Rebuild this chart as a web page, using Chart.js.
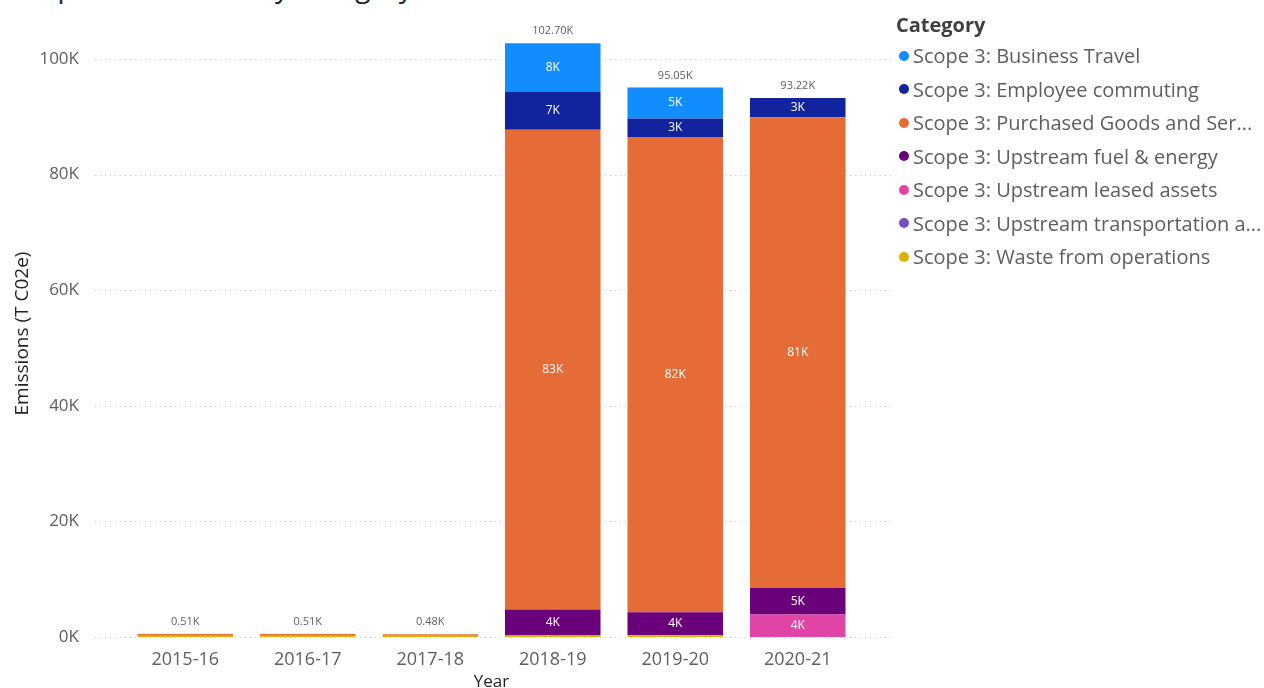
<!DOCTYPE html>
<html>
<head>
<meta charset="utf-8">
<title>Scope 3 Emissions by Category</title>
<script src="https://cdn.jsdelivr.net/npm/chart.js@4.4.1/dist/chart.umd.min.js"></script>
<style>
    body { margin: 0; background: #fff; font-family: "Open Sans", sans-serif; }
    #painel { position: relative; width: 1264px; height: 688px; overflow: hidden; }
    #titulo { position: absolute; left: 12px; top: -31px; font-size: 28px; line-height: 34px; color: #252423; white-space: nowrap; }
    #grafico-box { position: absolute; left: 0; top: 0; width: 1264px; height: 688px; }
    #legenda { position: absolute; left: 896px; top: 8px; color: #605E5C; font-size: 20px; }
    #legenda .titulo-legenda { font-weight: bold; color: #404040; line-height: 34px; margin-bottom: -3px; }
    #legenda .item { display: flex; align-items: center; height: 33.5px; white-space: nowrap; }
    #legenda .ponto { width: 10px; height: 10px; border-radius: 50%; margin-right: 4px; margin-left: 3px; }
</style>
</head>
<body>
<div id="painel">
    <div id="titulo">Scope 3 Emissions by Category</div>
    <div id="grafico-box"><canvas id="emissoes-chart"></canvas></div>
    <div id="legenda"></div>
</div>
<script>
// Anos fiscais
const anos = ['2015-16', '2016-17', '2017-18', '2018-19', '2019-20', '2020-21'];

// Emissões por categoria (milhares de T CO2e)
const viagens = [0, 0, 0, 8.35, 5.35, 0];
const deslocamento = [0, 0, 0, 6.6, 3.2, 3.32];
const compras = [0.3, 0.3, 0.28, 83.0, 82.2, 81.4];
const combustivel = [0, 0, 0, 4.4, 4.0, 4.6];
const arrendados = [0, 0, 0, 0, 0, 3.9];
const transporte = [0, 0, 0, 0, 0, 0];
const residuos = [0.21, 0.21, 0.2, 0.35, 0.3, 0];

// Nomes das categorias (como aparecem na legenda)
const categorias = [
    'Scope 3: Business Travel',
    'Scope 3: Employee commuting',
    'Scope 3: Purchased Goods and Ser...',
    'Scope 3: Upstream fuel & energy',
    'Scope 3: Upstream leased assets',
    'Scope 3: Upstream transportation a...',
    'Scope 3: Waste from operations'
];
const cores = ['#118DFF', '#12239E', '#E66C37', '#6B007B', '#E044A7', '#744EC2', '#D9B300'];
const series = [viagens, deslocamento, compras, combustivel, arrendados, transporte, residuos];

const yTicks = [0, 20, 40, 60, 80, 100];

const fonte = '"Open Sans", sans-serif';
const cinza = '#605E5C';

// Empilhamento de baixo para cima: a última categoria da legenda fica na base
const datasets = series.map((dados, i) => ({
    label: categorias[i],
    data: dados,
    backgroundColor: cores[i],
    borderWidth: 0,
    categoryPercentage: 1,
    barPercentage: 0.78
})).reverse();

// Linhas de grade pontilhadas que passam um pouco das bordas da área do gráfico
const gradePlugin = {
    id: 'grade',
    beforeDatasetsDraw(chart) {
        const ctx = chart.ctx;
        const y = chart.scales.y;
        const area = chart.chartArea;
        ctx.save();
        ctx.strokeStyle = '#C8C6C4';
        ctx.lineWidth = 1;
        ctx.setLineDash([1, 4]);
        yTicks.forEach(t => {
            const py = Math.round(y.getPixelForValue(t)) + 0.5;
            ctx.beginPath();
            ctx.moveTo(area.left - 29, py);
            ctx.lineTo(area.right + 34, py);
            ctx.stroke();
        });
        ctx.restore();
    }
};

// Rótulos de valor dentro das barras e totais no topo
const rotulosPlugin = {
    id: 'rotulos',
    afterDatasetsDraw(chart) {
        const ctx = chart.ctx;
        ctx.save();
        ctx.textAlign = 'center';
        ctx.textBaseline = 'middle';
        ctx.font = '12px ' + fonte;
        ctx.fillStyle = '#FFFFFF';
        chart.data.datasets.forEach((ds, i) => {
            const meta = chart.getDatasetMeta(i);
            meta.data.forEach((barra, j) => {
                const v = ds.data[j];
                if (!v) return;
                const altura = Math.abs(barra.base - barra.y);
                if (altura < 14) return;
                ctx.fillText(Math.round(v) + 'K', barra.x, (barra.y + barra.base) / 2);
            });
        });

        ctx.font = '11px ' + fonte;
        ctx.fillStyle = cinza;
        anos.forEach((ano, j) => {
            const total = series.reduce((soma, s) => soma + s[j], 0);
            const px = chart.scales.x.getPixelForValue(j);
            const py = chart.scales.y.getPixelForValue(total);
            ctx.fillText(total.toFixed(2) + 'K', px, py - 12);
        });
        ctx.restore();
    }
};

const emissoesChart = new Chart(document.getElementById('emissoes-chart'), {
    type: 'bar',
    data: { labels: anos, datasets: datasets },
    options: {
        responsive: true,
        maintainAspectRatio: false,
        animation: false,
        layout: { padding: { top: 30, right: 405, bottom: 0, left: 0 } },
        scales: {
            x: {
                stacked: true,
                grid: { display: false },
                border: { display: false },
                ticks: { color: cinza, font: { family: fonte, size: 18 }, padding: 4 },
                title: { display: true, text: 'Year', color: '#252423', font: { family: fonte, size: 17 }, padding: { top: 0, bottom: -4 } },
                afterFit(scale) { scale.height = 51; }
            },
            y: {
                stacked: true,
                min: 0,
                max: 105,
                grid: { display: false },
                border: { display: false },
                afterBuildTicks(scale) { scale.ticks = yTicks.map(v => ({ value: v })); },
                ticks: {
                    color: cinza,
                    font: { family: fonte, size: 17 },
                    padding: 37,
                    callback: v => v + 'K'
                },
                title: { display: true, text: 'Emissions (T C02e)', color: '#252423', font: { family: fonte, size: 19 }, padding: { top: 11, bottom: 0 } },
                afterFit(scale) {
                    // o espaçamento dos rótulos não deve empurrar a área do gráfico
                    scale.width = 124;
                    scale.paddingTop = 0;
                    scale.paddingBottom = 0;
                }
            }
        },
        plugins: {
            legend: { display: false },
            tooltip: { enabled: false },
            title: { display: false }
        }
    },
    plugins: [gradePlugin, rotulosPlugin]
});

// Legenda em HTML, na ordem das categorias
const legenda = document.getElementById('legenda');
legenda.innerHTML = '<div class="titulo-legenda">Category</div>' +
    categorias.map((nome, i) =>
        '<div class="item"><span class="ponto" style="background:' + cores[i] + '"></span>' + nome + '</div>'
    ).join('');
</script>
</body>
</html>
